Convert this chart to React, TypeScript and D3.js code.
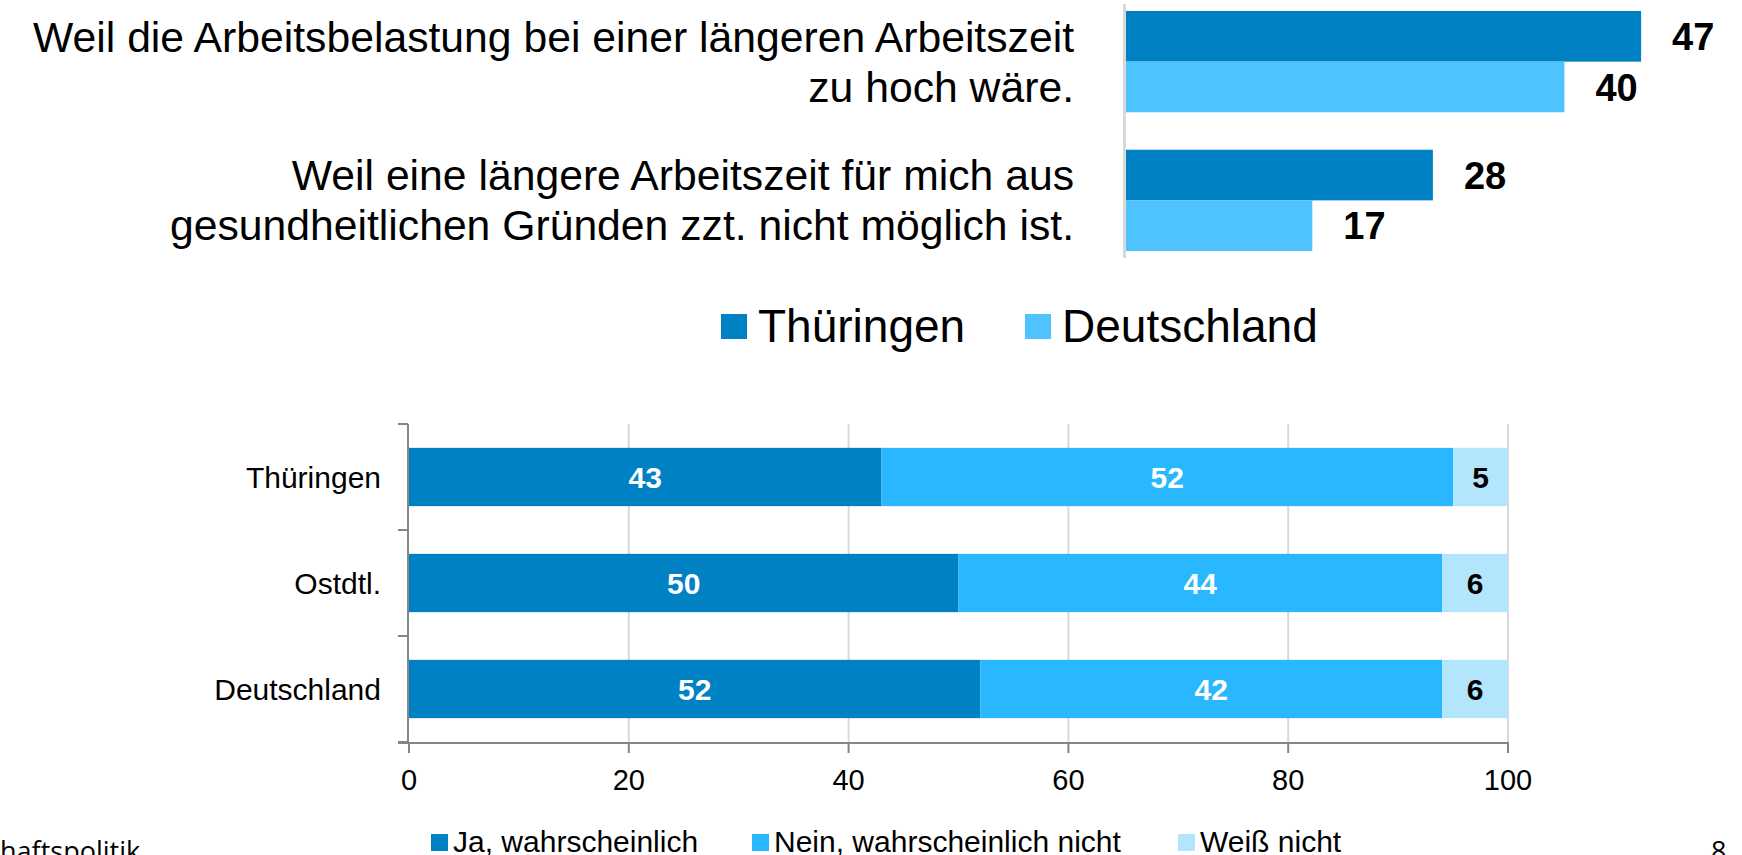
import React from "react";
import * as d3 from "d3";

// ---------- Data: top chart ----------
const reasonLines: string[][] = [
  ["Weil die Arbeitsbelastung bei einer längeren Arbeitszeit", "zu hoch wäre."],
  ["Weil eine längere Arbeitszeit für mich aus", "gesundheitlichen Gründen zzt. nicht möglich ist."],
];
const reasonKeys = ["r1", "r2"];
const topSeries = ["Thüringen", "Deutschland"];
const topThueringen = [47, 28];
const topDeutschland = [40, 17];

// ---------- Data: bottom chart ----------
const regions = ["Thüringen", "Ostdtl.", "Deutschland"];
const answerNames = ["Ja, wahrscheinlich", "Nein, wahrscheinlich nicht", "Weiß nicht"];
const jaValues = [43, 50, 52];
const neinValues = [52, 44, 42];
const weissValues = [5, 6, 6];
const xTicks = [0, 20, 40, 60, 80, 100];

// ---------- Styles ----------
const FONT = "'Liberation Sans', Arial, sans-serif";
const topColors = ["#0081C4", "#4FC3FF"];
const answerColors = ["#0081C4", "#29B7FF", "#B3E5FD"];
const answerLabelColors = ["#FFFFFF", "#FFFFFF", "#000000"];

export default function App() {
  const W = 1742;
  const H = 855;

  // top chart scales
  const xTop = d3.scaleLinear().domain([0, 100]).range([1126, 1126 + 1096]);
  const yTopGroup = d3.scaleBand<string>().domain(reasonKeys).range([11, 251]).paddingInner(0.27).paddingOuter(0);
  const ySub = d3.scaleBand<string>().domain(topSeries).range([0, yTopGroup.bandwidth()]);
  const topValues = [topThueringen, topDeutschland];

  // bottom chart scales
  const xB = d3.scaleLinear().domain([0, 100]).range([409, 1508]);
  const yB = d3.scaleBand<string>().domain(regions).range([424, 742]).paddingInner(0.45).paddingOuter(0.225);
  const yBoundary = d3.scaleBand<string>().domain(regions).range([424, 742]).padding(0);
  const stackData = regions.map((r, i) => ({ region: r, a0: jaValues[i], a1: neinValues[i], a2: weissValues[i] }));
  const stack = d3.stack<any>().keys(["a0", "a1", "a2"]);
  const stacked = stack(stackData);

  const boundaries = [...regions.map((r) => yBoundary(r)!), 742];

  return (
    <svg
      width={W}
      height={H}
      style={{ position: "fixed", left: 0, top: 0, background: "#fff" }}
      fontFamily={FONT}
    >
      <rect x={0} y={0} width={W} height={H} fill="#fff" />

      {/* ---------- TOP CHART ---------- */}
      <line x1={1124.5} x2={1124.5} y1={4} y2={258} stroke="#d9d9d9" strokeWidth={3} />
      {reasonKeys.map((k, gi) => {
        const gy = yTopGroup(k)!;
        const cy = gy + yTopGroup.bandwidth() / 2;
        return (
          <g key={k}>
            {reasonLines[gi].map((line, li) => (
              <text
                key={li}
                x={1074}
                y={cy - 10 + li * 50}
                textAnchor="end"
                fontSize={42.7}
                fill="#000"
              >
                {line}
              </text>
            ))}
            {topSeries.map((s, si) => {
              const v = topValues[si][gi];
              const y = gy + ySub(s)!;
              const h = ySub.bandwidth();
              return (
                <g key={s}>
                  <rect x={xTop(0)} y={y} width={xTop(v) - xTop(0)} height={h} fill={topColors[si]} />
                  <text
                    x={xTop(v) + 31}
                    y={y + h / 2}
                    dy="0.36em"
                    fontSize={38}
                    fontWeight="bold"
                    fill="#000"
                  >
                    {v}
                  </text>
                </g>
              );
            })}
          </g>
        );
      })}

      {/* top legend */}
      {topSeries.map((s, i) => {
        const lx = [721, 1025][i];
        return (
          <g key={s}>
            <rect x={lx} y={314} width={26} height={25} fill={topColors[i]} />
            <text x={lx + 37} y={342} fontSize={46} fill="#000">
              {s}
            </text>
          </g>
        );
      })}

      {/* ---------- BOTTOM CHART ---------- */}
      {/* gridlines */}
      {xTicks.filter((t) => t > 0).map((t) => (
        <line key={t} x1={xB(t)} x2={xB(t)} y1={424} y2={742} stroke="#d9d9d9" strokeWidth={2} />
      ))}

      {/* bars */}
      {stacked.map((layer, li) => (
        <g key={layer.key}>
          {layer.map((d, ri) => {
            const y = yB(regions[ri])!;
            const h = yB.bandwidth();
            const x0 = xB(d[0]);
            const x1 = xB(d[1]);
            const val = d[1] - d[0];
            return (
              <g key={ri}>
                <rect x={x0} y={y} width={x1 - x0} height={h} fill={answerColors[li]} />
                <text
                  x={(x0 + x1) / 2}
                  y={y + h / 2}
                  dy="0.36em"
                  textAnchor="middle"
                  fontSize={30}
                  fontWeight="bold"
                  fill={answerLabelColors[li]}
                >
                  {val}
                </text>
              </g>
            );
          })}
        </g>
      ))}

      {/* y axis */}
      <line x1={408} x2={408} y1={424} y2={743} stroke="#868686" strokeWidth={2} />
      {boundaries.map((b, i) => (
        <line key={i} x1={398} x2={408} y1={b} y2={b} stroke="#868686" strokeWidth={2} />
      ))}
      {regions.map((r) => (
        <text
          key={r}
          x={381}
          y={yB(r)! + yB.bandwidth() / 2}
          dy="0.36em"
          textAnchor="end"
          fontSize={30}
          fill="#000"
        >
          {r}
        </text>
      ))}

      {/* x axis */}
      <line x1={398} x2={1509} y1={743} y2={743} stroke="#868686" strokeWidth={2} />
      {xTicks.map((t) => (
        <g key={t}>
          <line x1={xB(t)} x2={xB(t)} y1={743} y2={753} stroke="#868686" strokeWidth={2} />
          <text x={xB(t)} y={790} textAnchor="middle" fontSize={29} fill="#000">
            {t}
          </text>
        </g>
      ))}

      {/* bottom legend */}
      {answerNames.map((n, i) => {
        const lx = [431, 752, 1178][i];
        return (
          <g key={n}>
            <rect x={lx} y={834} width={17} height={17} fill={answerColors[i]} />
            <text x={lx + 22} y={852} fontSize={30} fill="#000">
              {n}
            </text>
          </g>
        );
      })}

      {/* footer fragments */}
      <text x={0} y={861} fontSize={27} fontFamily="'Open Sans', sans-serif" fill="#000">
        haftspolitik
      </text>
      <text x={1711} y={861} fontSize={27} fontFamily="'Open Sans', sans-serif" fill="#000">
        8
      </text>
    </svg>
  );
}
